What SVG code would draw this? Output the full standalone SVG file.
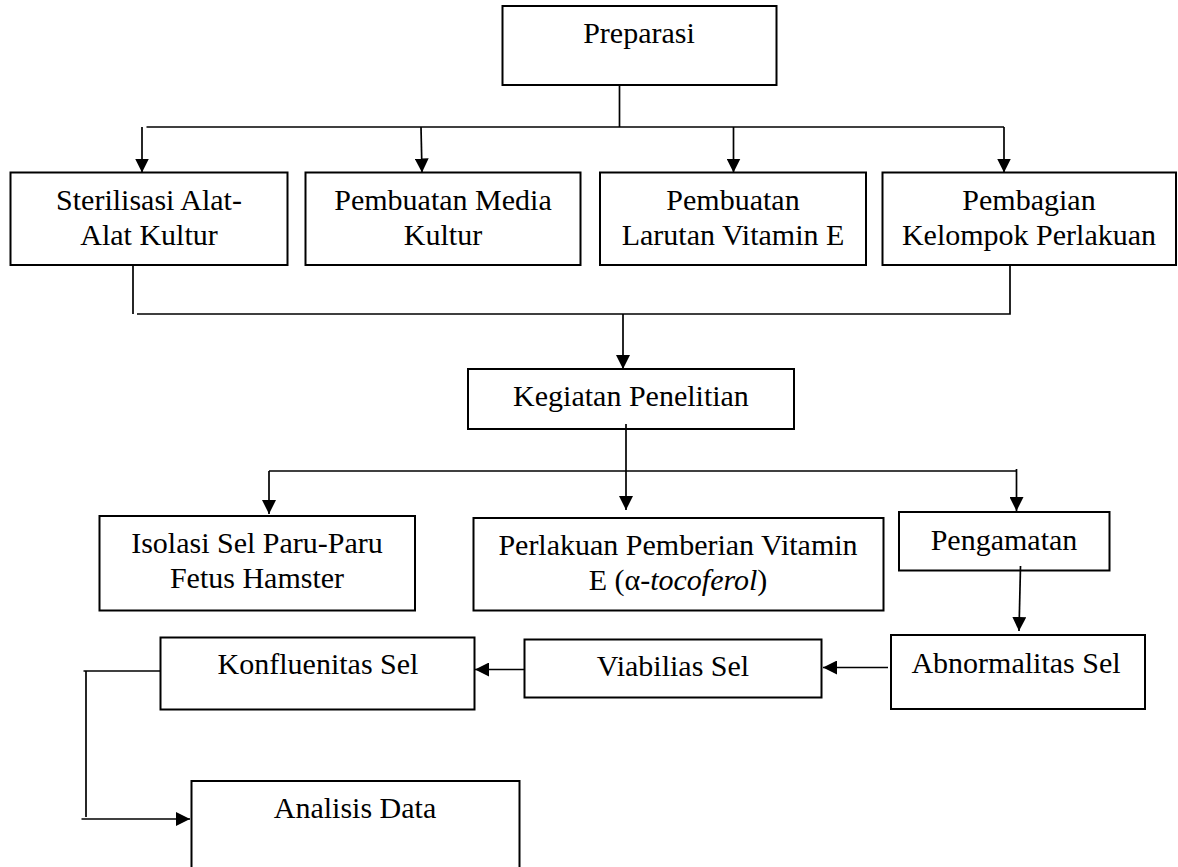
<svg xmlns="http://www.w3.org/2000/svg" width="1178" height="867" viewBox="0 0 1178 867">
<style>
rect.box{fill:#fff;stroke:#000;stroke-width:2}
text{font-family:"Liberation Serif","Times New Roman",serif;font-size:30px;fill:#000;text-anchor:middle}
.ln{fill:none;stroke:#000;stroke-width:1.7}
.ar{fill:none;stroke:#000;stroke-width:1.7;marker-end:url(#ah)}
</style>
<defs>
<marker id="ah" viewBox="0 0 14 14" refX="14" refY="7" markerWidth="14" markerHeight="14" orient="auto" markerUnits="userSpaceOnUse"><path d="M0,0 L14,7 L0,14 z" fill="#000"/></marker>
</defs>
<g id="n-preparasi"><rect class="box" x="502.5" y="6" width="274" height="79"/><text x="639" y="43">Preparasi</text></g>
<g id="n-sterilisasi"><rect class="box" x="10.5" y="172.5" width="277" height="92.5"/><text x="149" y="210">Sterilisasi Alat-</text><text x="149" y="245">Alat Kultur</text></g>
<g id="n-media"><rect class="box" x="305.5" y="172.5" width="275" height="92.5"/><text x="443" y="210">Pembuatan Media</text><text x="443" y="245">Kultur</text></g>
<g id="n-larutan"><rect class="box" x="600" y="172.5" width="266" height="92.5"/><text x="733" y="210">Pembuatan</text><text x="733" y="245">Larutan Vitamin E</text></g>
<g id="n-pembagian"><rect class="box" x="882.5" y="172.5" width="293.5" height="92.5"/><text x="1029" y="210">Pembagian</text><text x="1029" y="245">Kelompok Perlakuan</text></g>
<g id="n-kegiatan"><rect class="box" x="468" y="369" width="326" height="60"/><text x="631" y="406">Kegiatan Penelitian</text></g>
<g id="n-isolasi"><rect class="box" x="99.5" y="516" width="315.5" height="94.5"/><text x="257" y="553">Isolasi Sel Paru-Paru</text><text x="257" y="588">Fetus Hamster</text></g>
<g id="n-perlakuan"><rect class="box" x="473.5" y="518" width="410" height="92.5"/><text x="678" y="555">Perlakuan Pemberian Vitamin</text><text x="678" y="590">E (α-<tspan font-style="italic">tocoferol</tspan>)</text></g>
<g id="n-pengamatan"><rect class="box" x="899" y="512" width="210.5" height="58.5"/><text x="1004" y="549.5">Pengamatan</text></g>
<g id="n-abnormalitas"><rect class="box" x="891" y="635" width="254" height="74"/><text x="1016" y="673">Abnormalitas Sel</text></g>
<g id="n-viabilias"><rect class="box" x="524.5" y="639.5" width="297" height="58"/><text x="673" y="676">Viabilias Sel</text></g>
<g id="n-konfluenitas"><rect class="box" x="160.5" y="637.5" width="314" height="72"/><text x="318" y="674">Konfluenitas Sel</text></g>
<g id="n-analisis"><rect class="box" x="191.5" y="781" width="328" height="100"/><text x="355" y="818">Analisis Data</text></g>
<g id="connectors">
<path class="ln" d="M619.5,85 V127"/>
<path class="ln" d="M146.5,127 H1004"/>
<path class="ar" d="M142,127 V172.5"/>
<path class="ar" d="M421,127 L422,172.5"/>
<path class="ar" d="M733.5,127 V172.5"/>
<path class="ar" d="M1004,127 V172.5"/>
<path class="ln" d="M133,265 V314"/>
<path class="ln" d="M137,314 H1010 V265"/>
<path class="ar" d="M623,314 V369"/>
<path class="ln" d="M269,471 H1016.5"/>
<path class="ar" d="M269,471 V514"/>
<path class="ar" d="M626,424 V510"/>
<path class="ar" d="M1016.5,469 V511"/>
<path class="ar" d="M1020.5,566 L1019,631"/>
<path class="ar" d="M888,667.5 H823"/>
<path class="ar" d="M524.5,669.5 H475"/>
<path class="ln" d="M83.5,671 H160.5"/>
<path class="ln" d="M86,671 V817"/>
<path class="ar" d="M81.5,819 H190"/>
</g>
</svg>
